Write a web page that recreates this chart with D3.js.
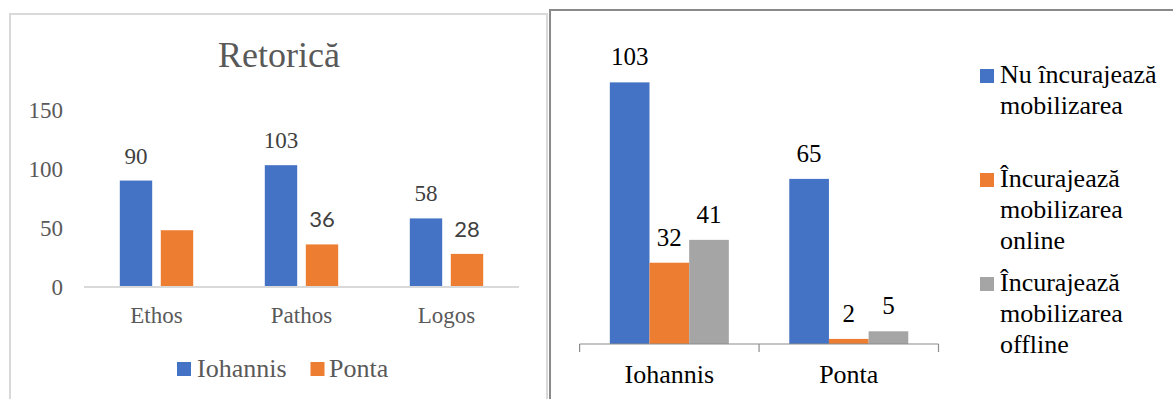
<!DOCTYPE html>
<html>
<head>
<meta charset="utf-8">
<script src="https://cdn.jsdelivr.net/npm/d3@7"></script>
<style>
  html, body { margin: 0; padding: 0; background: #ffffff; }
  svg { display: block; }
</style>
</head>
<body>
<svg id="chart" width="1173" height="399"></svg>
<script>
// ---- Left chart: rhetoric by candidate ----
const rhetoricCategories = ["Ethos", "Pathos", "Logos"];
const rhetoricSeries = ["Iohannis", "Ponta"];
const iohannisRhetoric = [90, 103, 58];
const pontaRhetoric = [48, 36, 28];
// which values carry a printed label
const pontaRhetoricLabelled = [false, true, true];
const rhetoricTicks = [0, 50, 100, 150];

// ---- Right chart: mobilisation messages ----
const mobilCategories = ["Iohannis", "Ponta"];
const mobilSeries = [
  ["Nu încurajează", "mobilizarea"],
  ["Încurajează", "mobilizarea", "online"],
  ["Încurajează", "mobilizarea", "offline"]
];
const nuIncurajeaza = [103, 65];
const incurajeazaOnline = [32, 2];
const incurajeazaOffline = [41, 5];

const SERIF = "'Liberation Serif', 'Times New Roman', 'DejaVu Serif', serif";
const SANS = "Lato, 'Open Sans', sans-serif";
const blue = "#4472C4", orange = "#ED7D31", grey = "#A5A5A5";
const svg = d3.select("#chart");

// ===== Left chart =====
const L = svg.append("g");
L.append("path")
  .attr("d", "M10,400 V14 H547 V400")
  .attr("fill", "none").attr("stroke", "#d9d9d9").attr("stroke-width", 2);

L.append("text").attr("x", 279).attr("y", 67)
  .attr("text-anchor", "middle").attr("fill", "#595959")
  .attr("font-size", 36).text("Retorică");

const xL = d3.scaleBand().domain(rhetoricCategories).range([84, 519]);
const xLs = d3.scaleBand().domain(rhetoricSeries).range([-36.7, 36.7]).paddingInner(0.21);
const yL = d3.scaleLinear().domain([0, 150]).range([287, 109.6]);

// y tick labels
const yAxisL = d3.axisLeft(yL).tickValues(rhetoricTicks).tickSize(0).tickPadding(0);
const gy = L.append("g").attr("transform", "translate(63,0)").call(yAxisL);
gy.select(".domain").remove();
gy.selectAll("text").attr("font-size", 23).attr("fill", "#595959")
  .attr("dy", "0.33em");

const rhetoricData = [iohannisRhetoric, pontaRhetoric];
const rhetoricColors = [blue, orange];
rhetoricSeries.forEach((s, si) => {
  L.append("g").selectAll("rect")
    .data(rhetoricCategories.map((c, i) => ({ c, v: rhetoricData[si][i] })))
    .join("rect")
    .attr("x", d => xL(d.c) + xL.bandwidth() / 2 + xLs(s))
    .attr("width", xLs.bandwidth())
    .attr("y", d => yL(d.v))
    .attr("height", d => yL(0) - yL(d.v))
    .attr("fill", rhetoricColors[si]);
});

// x axis line
L.append("line").attr("x1", 84).attr("x2", 519)
  .attr("y1", yL(0)).attr("y2", yL(0))
  .attr("stroke", "#d9d9d9").attr("stroke-width", 2);

// data labels
L.append("g").selectAll("text")
  .data(rhetoricCategories.map((c, i) => ({ c, v: iohannisRhetoric[i] })))
  .join("text")
  .attr("x", d => xL(d.c) + xL.bandwidth() / 2 + xLs("Iohannis") + xLs.bandwidth() / 2)
  .attr("y", d => yL(d.v) - 17)
  .attr("text-anchor", "middle").attr("font-size", 23).attr("fill", "#404040")
  .text(d => d.v);
L.append("g").selectAll("text")
  .data(rhetoricCategories.map((c, i) => ({ c, v: pontaRhetoric[i], show: pontaRhetoricLabelled[i] })).filter(d => d.show))
  .join("text")
  .attr("class", "sans")
  .attr("x", d => xL(d.c) + xL.bandwidth() / 2 + xLs("Ponta") + xLs.bandwidth() / 2)
  .attr("y", d => yL(d.v) - 17)
  .attr("text-anchor", "middle").attr("font-size", 22).attr("fill", "#404040")
  .text(d => d.v);

// category labels
L.append("g").selectAll("text").data(rhetoricCategories).join("text")
  .attr("x", d => xL(d) + xL.bandwidth() / 2).attr("y", 323)
  .attr("text-anchor", "middle").attr("font-size", 23).attr("fill", "#595959")
  .text(d => d);

// legend
const legL = L.append("g");
const legPos = [{ sx: 177, tx: 197 }, { sx: 310.5, tx: 329 }];
rhetoricSeries.forEach((s, i) => {
  legL.append("rect").attr("x", legPos[i].sx).attr("y", 362)
    .attr("width", 14).attr("height", 14).attr("fill", rhetoricColors[i]);
  legL.append("text").attr("x", legPos[i].tx).attr("y", 377)
    .attr("font-size", 26).attr("fill", "#595959").text(s);
});

// ===== Right chart =====
const R = svg.append("g");
R.append("path")
  .attr("d", "M550,400 V10 H1180")
  .attr("fill", "none").attr("stroke", "#8a8a8a").attr("stroke-width", 2);

const xR = d3.scaleBand().domain(mobilCategories).range([579.6, 938.5]);
const seriesKeys = ["nu", "online", "offline"];
const xRs = d3.scaleBand().domain(seriesKeys).range([-59.5, 59.5]);
const yR = d3.scaleLinear().domain([0, 120]).range([344, 39.2]);

const mobilData = [nuIncurajeaza, incurajeazaOnline, incurajeazaOffline];
const mobilColors = [blue, orange, grey];
seriesKeys.forEach((k, si) => {
  const rows = mobilCategories.map((c, i) => ({ c, v: mobilData[si][i] }));
  R.append("g").selectAll("rect").data(rows).join("rect")
    .attr("x", d => xR(d.c) + xR.bandwidth() / 2 + xRs(k))
    .attr("width", xRs.bandwidth())
    .attr("y", d => yR(d.v))
    .attr("height", d => yR(0) - yR(d.v))
    .attr("fill", mobilColors[si]);
  R.append("g").selectAll("text").data(rows).join("text")
    .attr("x", d => xR(d.c) + xR.bandwidth() / 2 + xRs(k) + xRs.bandwidth() / 2)
    .attr("y", d => yR(d.v) - 17)
    .attr("text-anchor", "middle").attr("font-size", 25).attr("fill", "#000")
    .text(d => d.v);
});

// x axis with category boundary ticks
const axR = R.append("g").attr("transform", `translate(0,${yR(0)})`);
axR.append("line").attr("x1", 579.6).attr("x2", 938.5)
  .attr("stroke", "#8c8c8c").attr("stroke-width", 1.2);
const bounds = mobilCategories.map(c => xR(c)).concat([xR(mobilCategories[mobilCategories.length - 1]) + xR.bandwidth()]);
axR.selectAll("line.tick").data(bounds).join("line").attr("class", "tick")
  .attr("x1", d => d).attr("x2", d => d).attr("y1", 0).attr("y2", 8)
  .attr("stroke", "#8c8c8c").attr("stroke-width", 1.2);
R.append("g").selectAll("text").data(mobilCategories).join("text")
  .attr("x", d => xR(d) + xR.bandwidth() / 2).attr("y", 383)
  .attr("text-anchor", "middle").attr("font-size", 26).attr("fill", "#000")
  .text(d => d);

// legend
const legR = R.append("g");
const legTop = [83, 187, 291];
mobilSeries.forEach((lines, i) => {
  legR.append("rect").attr("x", 980).attr("y", legTop[i] - 14)
    .attr("width", 14).attr("height", 14).attr("fill", mobilColors[i]);
  const t = legR.append("text").attr("x", 1000).attr("y", legTop[i])
    .attr("font-size", 26).attr("fill", "#000");
  lines.forEach((ln, j) => {
    t.append("tspan").attr("x", 1000).attr("dy", j === 0 ? 0 : 30.8).text(ln);
  });
});

// typefaces: serif everywhere except the two sans-serif value labels
svg.selectAll("text").each(function () {
  const el = d3.select(this);
  el.style("font-family", el.classed("sans") ? SANS : SERIF);
});
</script>
</body>
</html>
